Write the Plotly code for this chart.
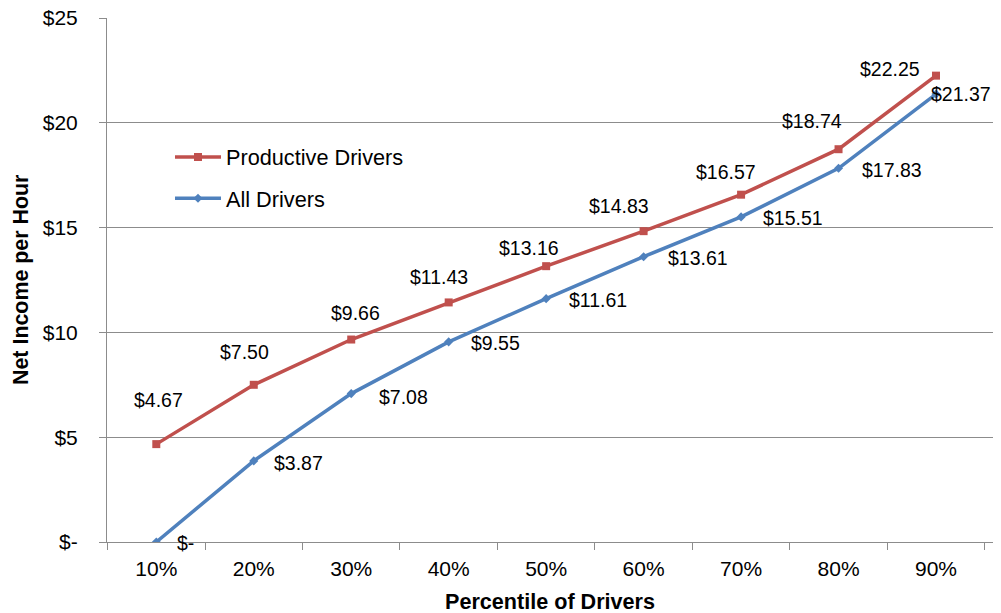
import plotly.graph_objects as go

categories = ["10%", "20%", "30%", "40%", "50%", "60%", "70%", "80%", "90%"]
productive = [4.67, 7.50, 9.66, 11.43, 13.16, 14.83, 16.57, 18.74, 22.25]
all_drivers = [0.0, 3.87, 7.08, 9.55, 11.61, 13.61, 15.51, 17.83, 21.37]
y_tick_vals = [0, 5, 10, 15, 20, 25]
y_tick_text = ["$-", "$5", "$10", "$15", "$20", "$25"]

# label offsets in pixels (dx right, dy down)
prod_offsets = [(2, -44), (-9, -33), (4, -27), (-10, -25), (-17, -18), (-25, -25), (-15, -23), (-27, -28), (-46, -7)]
all_offsets = [(29, 1), (45, 2), (52, 3), (47, 1), (52, 1), (54, 1), (52, 1), (53, 2), (25, 0)]

RED = "#C0504D"
BLUE = "#4F81BD"
GRID = "#8C8C8C"
FONT = "Liberation Sans, Arial, sans-serif"


def fmt(v):
    return "$-" if v == 0 else f"${v:.2f}"


fig = go.Figure()
fig.add_trace(go.Scatter(
    x=categories, y=productive, name="Productive Drivers", mode="lines+markers",
    line=dict(color=RED, width=3.5), marker=dict(symbol="square", size=8, color=RED),
    legendgroup="a",
))
fig.add_trace(go.Scatter(
    x=categories, y=all_drivers, name="All Drivers", mode="lines+markers",
    line=dict(color=BLUE, width=3.5), marker=dict(symbol="diamond", size=7, color=BLUE),
    legendgroup="b",
))

annotations = []
for c, v, (dx, dy) in zip(categories, productive, prod_offsets):
    annotations.append(dict(x=c, y=v, xref="x", yref="y", text=fmt(v), showarrow=False,
                            xshift=dx, yshift=-dy, font=dict(size=19.5, color="black", family=FONT)))
for c, v, (dx, dy) in zip(categories, all_drivers, all_offsets):
    annotations.append(dict(x=c, y=v, xref="x", yref="y", text=fmt(v), showarrow=False,
                            xshift=dx, yshift=-dy, font=dict(size=19.5, color="black", family=FONT)))

annotations.append(dict(text="<b>Percentile of Drivers</b>", x=0.5, y=-0.113, xref="paper", yref="paper",
                        showarrow=False, xanchor="center", yanchor="middle",
                        font=dict(size=21.6, color="black", family=FONT)))
annotations.append(dict(text="<b>Net Income per Hour</b>", x=-0.0971, y=0.5, xref="paper", yref="paper",
                        showarrow=False, xanchor="center", yanchor="middle", textangle=-90,
                        font=dict(size=21.4, color="black", family=FONT)))

fig.update_layout(
    width=1001, height=613,
    margin=dict(l=107, r=8, t=18, b=71, autoexpand=False),
    paper_bgcolor="white", plot_bgcolor="white",
    font=dict(family=FONT, size=21, color="black"),
    showlegend=True,
    legend=dict(x=0.0711, y=0.774, xanchor="left", yanchor="top",
                bgcolor="rgba(0,0,0,0)", borderwidth=0,
                traceorder="grouped", tracegroupgap=10, itemwidth=46,
                font=dict(size=21.7, family=FONT, color="black")),
    annotations=annotations,
)
fig.update_xaxes(
    type="category", showline=True, linecolor=GRID, linewidth=1,
    ticks="outside", tickson="boundaries", ticklen=7, tickcolor=GRID,
    showgrid=False, tickfont=dict(size=21, family=FONT, color="black"),
    ticklabelstandoff=8, automargin=False,
)
fig.update_yaxes(
    range=[0, 25], tickvals=y_tick_vals, ticktext=y_tick_text,
    showline=True, linecolor=GRID, linewidth=1,
    ticks="outside", ticklen=7, tickcolor=GRID,
    showgrid=True, gridcolor=GRID, gridwidth=1, zeroline=False,
    tickfont=dict(size=21, family=FONT, color="black"),
    ticklabelstandoff=17, ticklabeloverflow="allow", automargin=False,
)

# remove the browser's default 8px page margin so the 1001x613 figure fills the window
fig.write_html("out.html", config={"displayModeBar": False},
               post_script="document.body.style.margin='0';")
